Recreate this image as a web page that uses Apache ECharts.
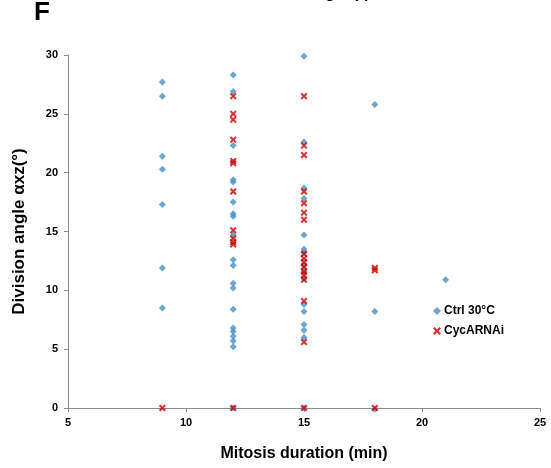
<!DOCTYPE html>
<html>
<head>
<meta charset="utf-8">
<script src="https://cdn.jsdelivr.net/npm/echarts@6/dist/echarts.min.js"></script>
<style>html,body{margin:0;padding:0;background:#fff;}#c{width:551px;height:468px;}</style>
</head>
<body>
<div id="c"></div>
<script>
// Mitosis duration (min) categories present in the chart
const durations = [9, 12, 15, 18, 21];
// Ctrl 30°C division angles per duration
const ctrlAngles = {
  9: [27.7, 26.5, 21.4, 20.3, 17.3, 11.9, 8.5],
  12: [28.3, 26.9, 22.3, 19.4, 19.2, 17.5, 16.5, 16.3, 14.7, 12.6, 12.1, 10.6, 10.2, 8.4, 6.8, 6.5, 6.1, 5.7, 5.2, 0],
  15: [29.9, 22.6, 18.7, 17.8, 14.7, 13.5, 13.2, 12.1, 11.6, 11.0, 8.8, 8.2, 7.1, 6.6, 6.0, 0],
  18: [25.8, 8.2, -0.1],
  21: [10.9]
};
// CycARNAi division angles per duration
const rnaiAngles = {
  9: [0],
  12: [26.5, 25.0, 24.5, 22.8, 21.0, 20.8, 18.4, 15.1, 14.4, 14.1, 13.9, 0],
  15: [26.5, 22.3, 21.5, 18.4, 17.4, 16.6, 16.0, 13.1, 12.7, 12.4, 12.0, 11.6, 11.3, 10.9, 9.1, 5.6, 0],
  18: [11.9, 11.7, 0]
};
const xTicks = [5, 10, 15, 20, 25];
const yTicks = [0, 5, 10, 15, 20, 25, 30];

function toPairs(obj) {
  const out = [];
  durations.forEach(d => { (obj[d] || []).forEach(v => out.push([d, v])); });
  return out;
}

const FONT = '"Liberation Sans", Arial, Helvetica, sans-serif';
const crossPath = 'path://M0,2 L2,0 L5,3 L8,0 L10,2 L7,5 L10,8 L8,10 L5,7 L2,10 L0,8 L3,5 Z';
const blue = '#4a90c2';
const red = '#cc0000';

const chart = echarts.init(document.getElementById('c'));
chart.setOption({
  animation: false,
  backgroundColor: '#fff',
  graphic: [
    { type: 'text', left: 34, top: 0, style: { text: 'F', font: 'bold 26px ' + FONT, fill: '#000' } },
    { type: 'text', left: 240, top: -14, style: { text: 'Division angle (°)', font: 'bold 16px ' + FONT, fill: '#000' } }
  ],
  legend: {
    orient: 'vertical',
    left: 428,
    top: 300,
    itemWidth: 8,
    itemHeight: 8,
    itemGap: 8,
    textStyle: { fontFamily: FONT, fontWeight: 'bold', fontSize: 12, color: '#000', padding: [0, 0, 0, -2] },
    data: [
      { name: 'Ctrl 30°C', icon: 'diamond' },
      { name: 'CycARNAi', icon: crossPath }
    ]
  },
  grid: { left: 68, right: 11, top: 55, bottom: 60 },
  xAxis: {
    type: 'value', min: xTicks[0], max: xTicks[xTicks.length - 1], interval: 5,
    name: 'Mitosis duration (min)', nameLocation: 'middle', nameGap: 38,
    nameTextStyle: { fontFamily: FONT, fontWeight: 'bold', fontSize: 16, color: '#000' },
    axisLine: { lineStyle: { color: '#8c8c8c', width: 1 } },
    axisTick: { show: true, length: 4, lineStyle: { color: '#8c8c8c' } },
    axisLabel: { fontFamily: FONT, fontWeight: 'bold', fontSize: 11, color: '#000', margin: 9 },
    splitLine: { show: false }
  },
  yAxis: {
    type: 'value', min: yTicks[0], max: yTicks[yTicks.length - 1], interval: 5,
    name: 'Division angle αxz(°)', nameLocation: 'middle', nameGap: 40,
    nameTextStyle: { fontFamily: FONT, fontWeight: 'bold', fontSize: 17, color: '#000' },
    axisLine: { show: true, lineStyle: { color: '#8c8c8c', width: 1 } },
    axisTick: { show: true, length: 4, lineStyle: { color: '#8c8c8c' } },
    axisLabel: { fontFamily: FONT, fontWeight: 'bold', fontSize: 11, color: '#000', margin: 10 },
    splitLine: { show: false }
  },
  series: [
    {
      name: 'Ctrl 30°C', type: 'scatter', symbol: 'diamond', symbolSize: 7,
      itemStyle: { color: blue }, data: toPairs(ctrlAngles), clip: false
    },
    {
      name: 'CycARNAi', type: 'scatter', symbol: crossPath, symbolSize: 7,
      itemStyle: { color: red }, data: toPairs(rnaiAngles), clip: false
    }
  ]
});
</script>
</body>
</html>
